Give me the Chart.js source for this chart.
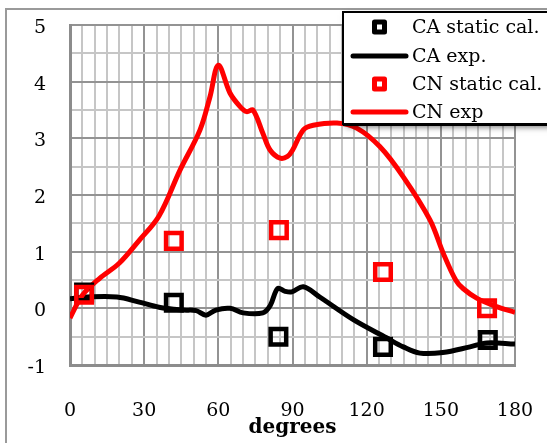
<!DOCTYPE html>
<html>
<head>
<meta charset="utf-8">
<script src="https://cdn.jsdelivr.net/npm/chart.js@4.4.0/dist/chart.umd.min.js"></script>
<style>
  html, body { margin: 0; padding: 0; background: #fff; }
  #wrap { width: 547px; height: 443px; position: relative; }
</style>
</head>
<body>
<div id="wrap"><canvas id="myChart" width="547" height="443"></canvas></div>
<script>
// values
const caExpDeg = [0, 7, 19, 28, 36, 45.8, 51, 55, 59, 64.7, 70, 78, 81, 84, 87, 89.7, 94.4, 101, 114.6, 128, 134.8, 141.5, 150.8, 161.8, 168.6, 180];
const caExpVal = [0.17, 0.2, 0.2, 0.11, 0.02, -0.03, -0.04, -0.12, -0.03, 0.0, -0.08, -0.08, 0.05, 0.35, 0.3, 0.29, 0.38, 0.2, -0.2, -0.52, -0.68, -0.79, -0.78, -0.68, -0.61, -0.63];

const cnExpDeg = [0, 5, 12, 20, 28, 36, 44.5, 52.6, 56.6, 60, 64.7, 68.8, 71.5, 74, 78, 81, 85, 88, 90, 94.4, 98.4, 108, 116, 125.4, 134.8, 145.6, 151, 156, 159, 164.5, 172.5, 180];
const cnExpVal = [-0.17, 0.23, 0.53, 0.8, 1.2, 1.63, 2.44, 3.15, 3.73, 4.29, 3.8, 3.56, 3.47, 3.5, 3.09, 2.79, 2.65, 2.68, 2.79, 3.15, 3.23, 3.27, 3.18, 2.85, 2.32, 1.56, 0.97, 0.5, 0.35, 0.18, 0.03, -0.07];

const caCalDeg = [5.7, 42, 84.3, 126.6, 169];
const caCalVal = [0.28, 0.1, -0.5, -0.68, -0.56];

const cnCalDeg = [5.7, 42, 84.5, 126.6, 168.7];
const cnCalVal = [0.24, 1.19, 1.38, 0.64, 0.0];

const xTicks = [0, 30, 60, 90, 120, 150, 180];
const yTicks = [-1, 0, 1, 2, 3, 4, 5];

const serif = '"DejaVu Serif", "Liberation Serif", serif';

function toPoints(xs, ys) {
  return xs.map((x, i) => ({ x: x, y: ys[i] }));
}

// white page + grey frame round the chart
const frame = {
  id: 'frame',
  beforeDraw(chart) {
    const c = chart.ctx;
    c.save();
    c.fillStyle = '#fff';
    c.fillRect(0, 0, chart.width, chart.height);
    c.strokeStyle = '#9a9a9a';
    c.lineWidth = 2;
    c.beginPath();
    c.moveTo(6, chart.height + 5);
    c.lineTo(6, 9);
    c.lineTo(chart.width + 5, 9);
    c.stroke();
    c.restore();
  }
};

// legend box in the top right corner
const boxLegend = {
  id: 'boxLegend',
  afterDraw(chart) {
    const c = chart.ctx;
    const left = 343, top = 12, right = 562, bottom = 124;
    c.save();
    c.shadowColor = 'rgba(0,0,0,0.55)';
    c.shadowBlur = 6;
    c.shadowOffsetX = 3;
    c.shadowOffsetY = 3;
    c.fillStyle = '#fff';
    c.fillRect(left, top, right - left, bottom - top);
    c.restore();
    c.save();
    c.strokeStyle = '#000';
    c.lineWidth = 2;
    c.strokeRect(left, top, right - left, bottom - top);
    c.lineWidth = 3;
    c.beginPath();
    c.moveTo(left, bottom + 0.5);
    c.lineTo(right, bottom + 0.5);
    c.stroke();

    const rows = [27, 56, 84, 112];
    chart.data.datasets.forEach((ds, i) => {
      const y = rows[i];
      c.strokeStyle = ds.borderColor;
      if (ds.showLine) {
        c.lineWidth = 5;
        c.lineCap = 'round';
        c.beginPath();
        c.moveTo(353, y);
        c.lineTo(406, y);
        c.stroke();
      } else {
        c.lineWidth = 5;
        c.lineJoin = 'round';
        c.strokeRect(374.5, y - 5, 10, 10);
      }
      c.fillStyle = '#000';
      c.font = '19px ' + serif;
      c.textBaseline = 'middle';
      c.textAlign = 'left';
      c.fillText(ds.label, 412, y + 1);
    });
    c.restore();
  }
};

const ctx = document.getElementById('myChart').getContext('2d');
let myChart = new Chart(ctx, {
  type: 'scatter',
  data: {
    datasets: [
      {
        label: 'CA static cal.',
        data: toPoints(caCalDeg, caCalVal),
        showLine: false,
        pointStyle: 'rect',
        pointRadius: 11,
        pointBorderWidth: 4.5,
        borderColor: '#000',
        backgroundColor: 'rgba(0,0,0,0)',
        order: 2
      },
      {
        label: 'CA exp.',
        data: toPoints(caExpDeg, caExpVal),
        showLine: true,
        borderColor: '#000',
        borderWidth: 5,
        pointRadius: 0,
        tension: 0.35,
        order: 4
      },
      {
        label: 'CN static cal.',
        data: toPoints(cnCalDeg, cnCalVal),
        showLine: false,
        pointStyle: 'rect',
        pointRadius: 11,
        pointBorderWidth: 4.5,
        borderColor: '#ff0000',
        backgroundColor: 'rgba(0,0,0,0)',
        order: 1
      },
      {
        label: 'CN exp',
        data: toPoints(cnExpDeg, cnExpVal),
        showLine: true,
        borderColor: '#ff0000',
        borderWidth: 5,
        pointRadius: 0,
        tension: 0.35,
        order: 3
      }
    ]
  },
  options: {
    responsive: false,
    animation: false,
    layout: { autoPadding: false, padding: { top: 25, right: 32, left: 0, bottom: 0 } },
    plugins: {
      legend: { display: false },
      tooltip: { enabled: false }
    },
    scales: {
      x: {
        type: 'linear',
        min: 0,
        max: 180,
        afterFit: (s) => { s.height = 78; s.paddingLeft = 0; s.paddingRight = 0; },
        afterBuildTicks: (s) => {
          const t = [];
          for (let v = 0; v <= 180; v += 5) t.push({ value: v });
          s.ticks = t;
        },
        ticks: {
          autoSkip: false,
          maxRotation: 0,
          padding: 35,
          color: '#000',
          font: { family: serif, size: 19 },
          callback: (v) => (xTicks.includes(v) ? String(v) : '')
        },
        grid: {
          drawTicks: false,
          lineWidth: 2,
          color: (c) => (c.tick && c.tick.value % 30 === 0 ? '#939393' : '#c6c6c6')
        },
        border: { color: '#8c8c8c', width: 3 },
        title: {
          display: true,
          text: 'degrees',
          color: '#000',
          padding: { top: 0, bottom: 3 },
          font: { family: serif, size: 20, weight: 'bold' }
        }
      },
      y: {
        type: 'linear',
        min: -1,
        max: 5,
        afterFit: (s) => { s.width = 70; s.paddingTop = 0; s.paddingBottom = 0; },
        afterBuildTicks: (s) => {
          const t = [];
          for (let v = -1; v <= 5.001; v += 0.5) t.push({ value: Math.round(v * 10) / 10 });
          s.ticks = t;
        },
        ticks: {
          autoSkip: false,
          padding: 24,
          labelOffset: 3,
          color: '#000',
          font: { family: serif, size: 19 },
          callback: (v) => (yTicks.includes(v) ? String(v) : '')
        },
        grid: {
          drawTicks: false,
          lineWidth: 2,
          color: (c) => (c.tick && Number.isInteger(c.tick.value) ? '#939393' : '#c6c6c6')
        },
        border: { color: '#8c8c8c', width: 3 }
      }
    }
  },
  plugins: [frame, boxLegend]
});
</script>
</body>
</html>
